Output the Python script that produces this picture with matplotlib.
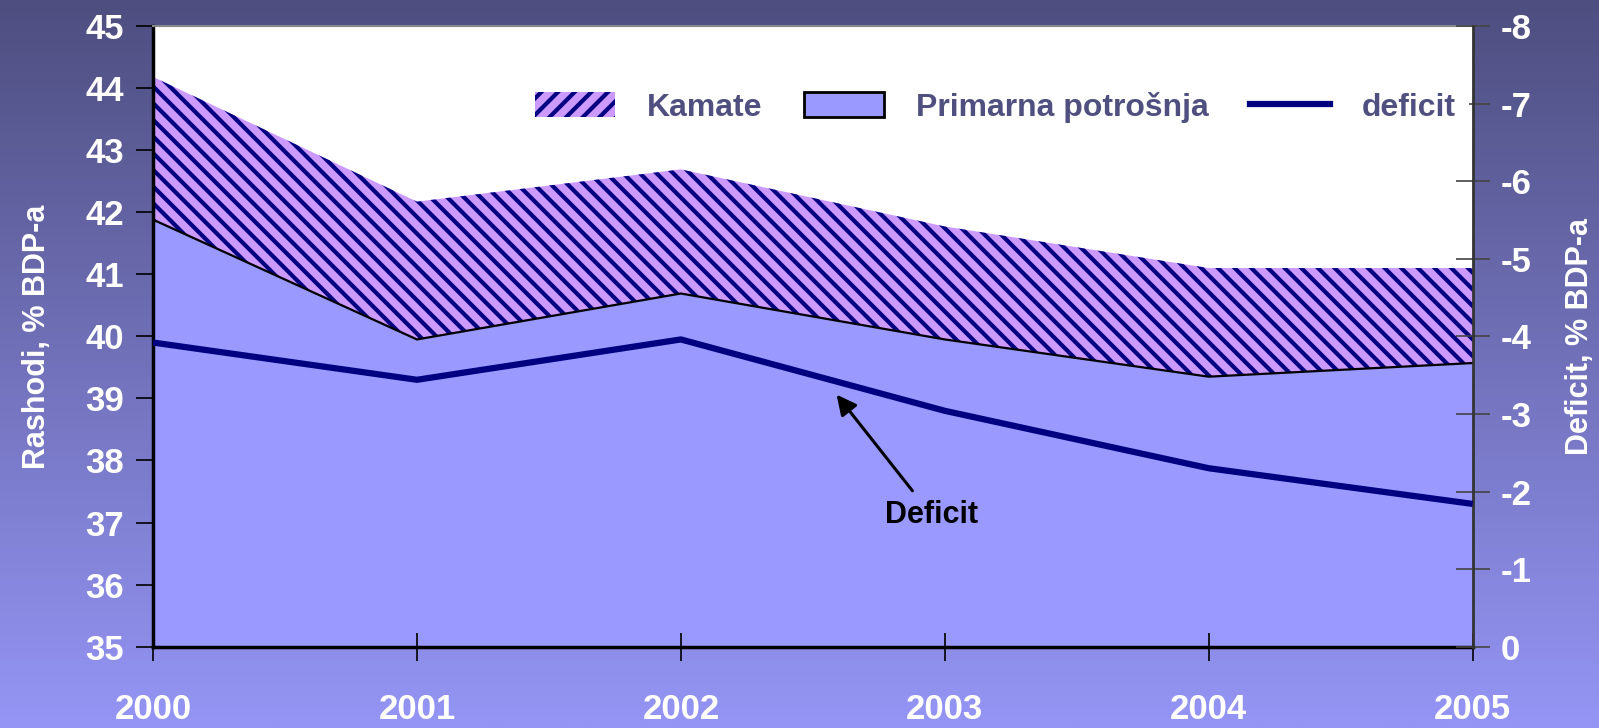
import numpy as np
import matplotlib.pyplot as plt
from matplotlib.patches import Patch
from matplotlib.lines import Line2D

plt.rcParams['font.family'] = ['Liberation Sans', 'DejaVu Sans']
plt.rcParams['font.weight'] = 'bold'
plt.rcParams['axes.unicode_minus'] = False
plt.rcParams['hatch.color'] = '#000080'
plt.rcParams['hatch.linewidth'] = 3.0

years = [2000, 2001, 2002, 2003, 2004, 2005]
primarna = [41.88, 39.95, 40.69, 39.95, 39.35, 39.57]
ukupno = [44.18, 42.17, 42.69, 41.77, 41.10, 41.10]   # primarna + kamate
deficit = [-3.92, -3.44, -3.96, -3.04, -2.30, -1.84]

label_col = '#505080'

fig = plt.figure(figsize=(15.99, 7.28), dpi=100)

# gradient background
bg = fig.add_axes([0, 0, 1, 1], zorder=-10)
grad = np.linspace(0, 1, 256).reshape(-1, 1)
top = np.array([0x4e, 0x4e, 0x80]) / 255
bot = np.array([0x95, 0x95, 0xf6]) / 255
img = top + (bot - top) * grad[..., None]
bg.imshow(np.repeat(img, 2, axis=1), aspect='auto', extent=[0, 1, 0, 1], origin='upper')
bg.axis('off')

ax = fig.add_axes([0.0957, 0.1117, 0.8253, 0.8526])
ax.set_facecolor('white')
ax.fill_between(years, 35, primarna, color='#9999ff', lw=0, zorder=1)
ax.fill_between(years, primarna, ukupno, facecolor='#cc99ff', edgecolor='#000080',
                hatch='\\\\', lw=0, zorder=1)
ax.plot(years, primarna, color='black', lw=1.6, zorder=2)
ax.set_xlim(2000, 2005)
ax.set_ylim(35, 45)
ax.set_yticks(range(35, 46))
ax.set_xticks(years)
ax.tick_params(axis='y', direction='out', length=12, width=1.2, colors='black',
               labelcolor='white', labelsize=25, pad=9)
ax.tick_params(axis='x', direction='inout', length=20, width=1.2, colors='black',
               labelcolor='white', labelsize=25, pad=23)
for t in ax.get_xticklabels() + ax.get_yticklabels():
    t.set_fontweight('bold')
ax.spines['left'].set_linewidth(2.5)
ax.spines['bottom'].set_linewidth(2.5)
ax.spines['top'].set_color('#888888')
ax.spines['top'].set_linewidth(1.5)
ax.spines['right'].set_visible(False)
ax.set_ylabel('Rashodi, % BDP-a', color='white', fontsize=22, fontweight='bold', labelpad=24)

ax2 = ax.twinx()
ax2.plot(years, deficit, color='#000080', lw=4.5, solid_capstyle='butt', zorder=3)
ax2.set_ylim(0, -8)
ax2.set_yticks(range(0, -9, -1))
ax2.tick_params(axis='y', direction='inout', length=24, width=1.2, colors='#444444',
                labelcolor='white', labelsize=25, pad=8)
for t in ax2.get_yticklabels():
    t.set_fontweight('bold')
for s in ['top', 'bottom', 'left']:
    ax2.spines[s].set_visible(False)
ax2.spines['right'].set_color('#333333')
ax2.spines['right'].set_linewidth(2)
ax2.set_ylabel('Deficit, % BDP-a', color='white', fontsize=22, fontweight='bold', labelpad=24)

ax.annotate('Deficit', xy=(2002.59, 39.06), xytext=(2002.95, 37.12),
            ha='center', va='center', fontsize=22, fontweight='bold', color='black',
            arrowprops=dict(arrowstyle='-|>', color='black', lw=2.2, mutation_scale=30,
                            shrinkA=6, shrinkB=0), zorder=5)

handles = [Patch(facecolor='#cc99ff', edgecolor='#000080', hatch='//', lw=0),
           Patch(facecolor='#9999ff', edgecolor='black', lw=2),
           Line2D([0], [0], color='#000080', lw=4.5)]
leg = ax2.legend(handles, ['Kamate', 'Primarna potrošnja', 'deficit'], ncol=3,
                 loc='upper right', bbox_to_anchor=(0.997, 0.915), frameon=True,
                 facecolor='white', edgecolor='none', framealpha=1, fancybox=False,
                 fontsize=23, handlelength=2.5, handleheight=0.8, columnspacing=1.3,
                 handletextpad=1.0, borderaxespad=0)
for t in leg.get_texts():
    t.set_color(label_col)
    t.set_fontweight('bold')

fig.savefig('out.png', dpi=100)
